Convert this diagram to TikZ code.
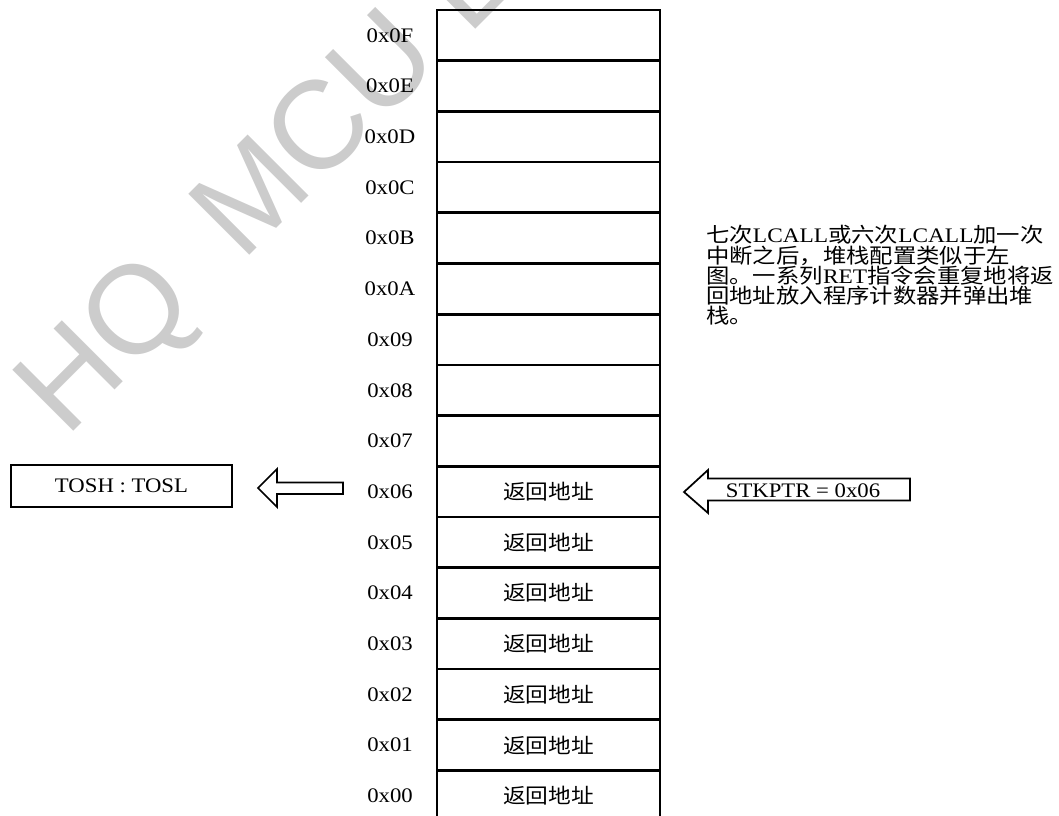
\documentclass[tikz,border=0pt]{standalone}
\usepackage{fontspec}
\usepackage{graphicx}
\setmainfont{Liberation Serif}
\newfontfamily\cjk{Noto Sans CJK SC}
\newfontfamily\wmfont{Liberation Sans}
\newcommand{\sx}[2][1.1]{\scalebox{#1}[1]{#2}}
\begin{document}
\begin{tikzpicture}[x=0.75pt,y=-0.75pt,
  cell/.style={draw, line width=2pt, minimum width=167.25pt, minimum height=38.03pt,
    inner sep=0pt, font=\fontsize{15.5}{18}\selectfont\cjk},
  addr/.style={inner sep=0pt, font=\fontsize{15.5}{18}\selectfont},
  tosbox/.style={draw, line width=1.4pt, minimum width=165.75pt, minimum height=31.5pt,
    inner sep=0pt, font=\fontsize{15.5}{18}\selectfont},
  blockarrow/.style={draw, line width=1.3pt, line join=miter},
  rtext/.style={anchor=base west, inner sep=0pt, font=\fontsize{15.5}{18}\selectfont},
  wm/.style={anchor=base west, inner sep=0pt, rotate=45, text=black!20,
    font=\fontsize{94}{100}\selectfont\wmfont}]
\path[use as bounding box] (0,0) rectangle (1059,816);
\clip (0,0) rectangle (1059,816);
% watermark
\node[wm] (wm) at (66,439) {HQ\hspace{19.5pt} MCU L};
% stack cells
\foreach \i/\lab in {0/0F,1/0E,2/0D,3/0C,4/0B,5/0A,6/09,7/08,8/07}{
  \node[cell] (c\lab) at (548.5,{10+50.7*(\i+0.5)}) {};
  \node[addr] (l\lab) at (390,{10+50.7*(\i+0.5)}) {\sx{0x\lab}};
}
\foreach \i/\lab in {9/06,10/05,11/04,12/03,13/02,14/01,15/00}{
  \node[cell] (c\lab) at (548.5,{10+50.7*(\i+0.5)}) {\sx{返回地址}};
  \node[addr] (l\lab) at (390,{10+50.7*(\i+0.5)}) {\sx{0x\lab}};
}
% TOSH : TOSL box
\node[tosbox] (tos) at (121.5,486) {\sx{TOSH : TOSL}};
% left block arrow
\draw[blockarrow] (258,488) -- (277,469) -- (277,482.5) -- (343,482.5)
  -- (343,494) -- (277,494) -- (277,507) -- cycle;
% STKPTR block arrow
\node[addr] (sp) at (803,490.5) {\sx{STKPTR = 0x06}};
\draw[blockarrow] (684,492) -- (708,470) -- (708,478.5) -- (910,478.5)
  -- (910,500.5) -- (708,500.5) -- (708,513) -- cycle;
% right text
\node[rtext] (r1) at (706,243) {\sx[1.13]{{\cjk 七次}LCALL{\cjk 或六次}LCALL{\cjk 加一次}}};
\node[rtext] (r2) at (706,263.2) {\sx[1.13]{\cjk 中断之后，堆栈配置类似于左}};
\node[rtext] (r3) at (706,283.4) {\sx[1.13]{{\cjk 图。一系列}RET{\cjk 指令会重复地将返}}};
\node[rtext] (r4) at (706,303.6) {\sx[1.13]{\cjk 回地址放入程序计数器并弹出堆}};
\node[rtext] (r5) at (706,323.8) {\sx[1.13]{\cjk 栈。}};
\end{tikzpicture}
\end{document}
